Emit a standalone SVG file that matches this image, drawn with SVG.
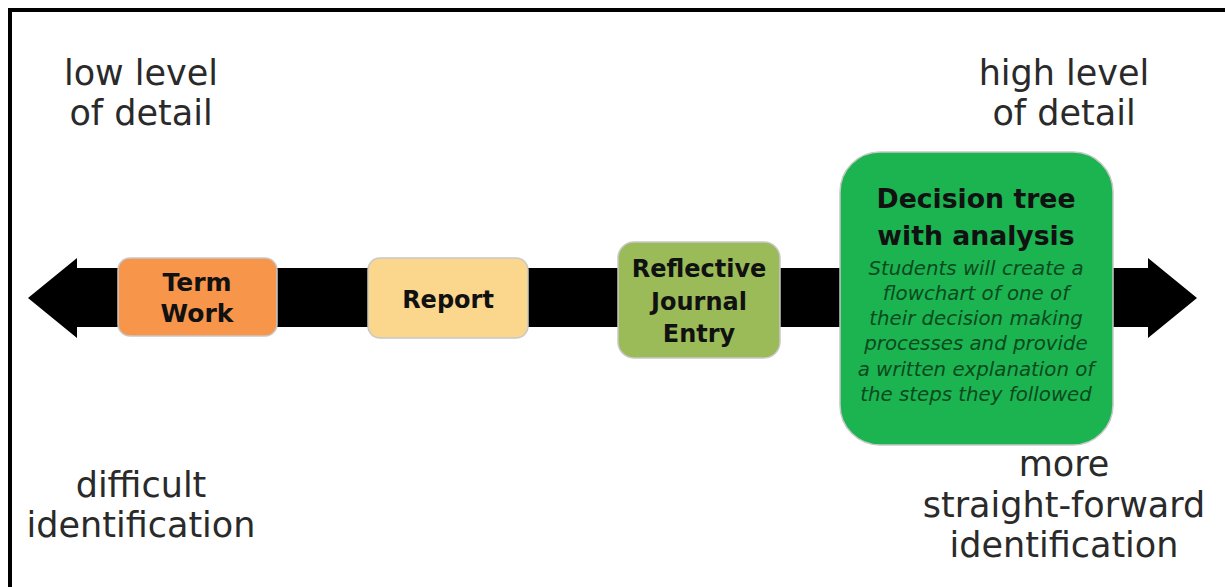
<svg xmlns="http://www.w3.org/2000/svg" width="1225" height="587" viewBox="0 0 1225 587">
<style>
.lbl{font-family:"DejaVu Sans","Verdana",sans-serif;font-size:35px;fill:#2a2a2a;text-anchor:middle}
.bt{font-family:"DejaVu Sans","Verdana",sans-serif;font-weight:bold;font-size:24px;fill:#111;text-anchor:middle}
.it{font-family:"DejaVu Sans","Verdana",sans-serif;font-style:italic;font-size:19.8px;fill:#0b4a1e;text-anchor:middle}
.box{stroke:#c8c8c8;stroke-width:1.5}
</style>
<rect x="0" y="0" width="1225" height="587" fill="#fff"/>
<path d="M10 587 V10 H1225" fill="none" stroke="#000" stroke-width="4"/>
<g id="connectors">
<polygon points="28,298 77,258 77,268 1148,268 1148,258 1197,298 1148,338 1148,327 77,327 77,338" fill="#000"/>
</g>
<g id="labels">
<text class="lbl" x="141" y="85">low level</text>
<text class="lbl" x="141" y="125">of detail</text>
<text class="lbl" x="1064" y="85">high level</text>
<text class="lbl" x="1064" y="125">of detail</text>
<text class="lbl" x="141" y="497">difficult</text>
<text class="lbl" x="141" y="537">identification</text>
<text class="lbl" x="1064" y="476">more</text>
<text class="lbl" x="1064" y="517">straight-forward</text>
<text class="lbl" x="1064" y="557">identification</text>
</g>
<g id="term-work">
<rect class="box" x="118" y="258" width="159" height="78" rx="12" fill="#F7954A"/>
<text class="bt" x="197" y="291" style="font-size:25px">Term</text>
<text class="bt" x="197" y="322" style="font-size:25px">Work</text>
</g>
<g id="report">
<rect class="box" x="368" y="258" width="160" height="80" rx="12" fill="#FBD68D"/>
<text class="bt" x="448" y="308">Report</text>
</g>
<g id="reflective">
<rect class="box" x="618" y="242" width="162" height="116" rx="16" fill="#9BBB59"/>
<text class="bt" x="699" y="277">Reflective</text>
<text class="bt" x="699" y="310">Journal</text>
<text class="bt" x="699" y="342">Entry</text>
</g>
<g id="decision">
<rect class="box" x="840" y="152" width="273" height="293" rx="40" fill="#1CB351"/>
<text class="bt" x="976" y="208" style="font-size:26.7px">Decision tree</text>
<text class="bt" x="976" y="245" style="font-size:26.7px">with analysis</text>
<text class="it" x="976" y="275">Students will create a</text>
<text class="it" x="976" y="300">flowchart of one of</text>
<text class="it" x="976" y="325">their decision making</text>
<text class="it" x="976" y="350">processes and provide</text>
<text class="it" x="976" y="376">a written explanation of</text>
<text class="it" x="976" y="401">the steps they followed</text>
</g>
</svg>
